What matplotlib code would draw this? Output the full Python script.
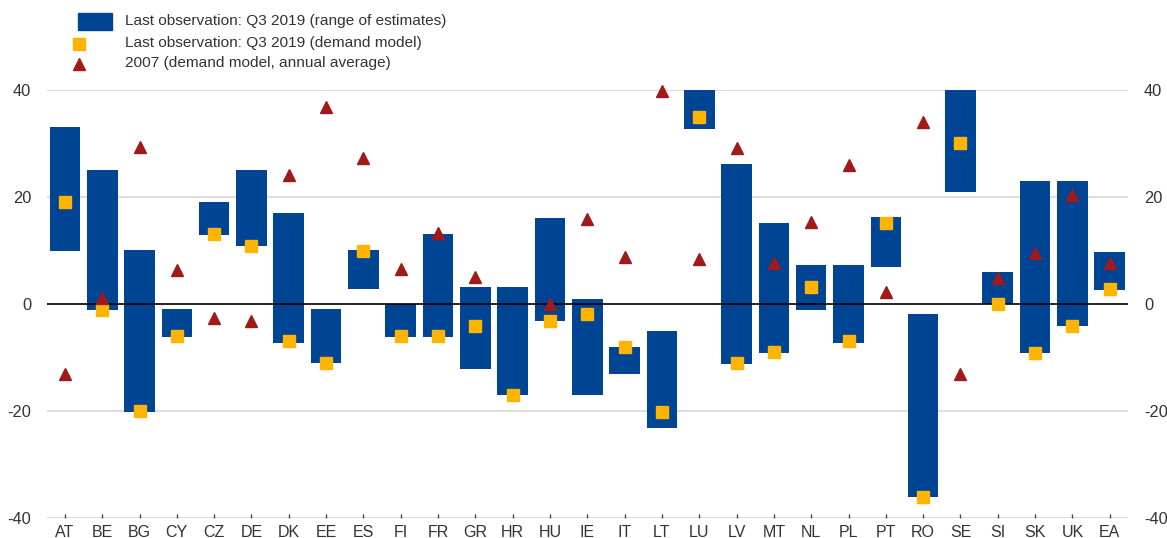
import numpy as np
import matplotlib
matplotlib.use("Agg")
import matplotlib.pyplot as plt
from matplotlib.patches import Rectangle
from matplotlib.lines import Line2D

plt.rcParams['font.family'] = ['Liberation Sans', 'DejaVu Sans']

countries = ["AT", "BE", "BG", "CY", "CZ", "DE", "DK", "EE", "ES", "FI", "FR", "GR", "HR", "HU",
             "IE", "IT", "LT", "LU", "LV", "MT", "NL", "PL", "PT", "RO", "SE", "SI", "SK", "UK", "EA"]
range_low = [9.9, -1.1, -20.2, -6.2, 12.9, 10.9, -7.2, -11.0, 2.8, -6.1, -6.1, -12.1, -17.1, -3.1,
             -17.1, -13.1, -23.1, 32.7, -11.2, -9.2, -1.1, -7.2, 6.9, -36.1, 20.9, 0.0, -9.1, -4.1, 2.6]
range_high = [33.0, 25.1, 10.0, -0.9, 19.1, 25.1, 17.1, -0.9, 10.1, 0.0, 13.1, 3.1, 3.1, 16.1,
              1.0, -8.0, -5.0, 42.0, 26.1, 15.1, 7.2, 7.2, 16.2, -1.9, 45.0, 6.0, 23.0, 23.0, 9.8]
demand_2019 = [19.0, -1.1, -20.0, -6.0, 13.1, 10.9, -6.9, -11.0, 10.0, -6.0, -6.0, -4.1, -17.0, -3.1,
               -1.9, -8.1, -20.1, 35.0, -11.0, -9.0, 3.2, -6.9, 15.1, -36.0, 30.0, 0.0, -9.1, -4.1, 2.8]
demand_2007 = [-13.1, 1.1, 29.3, 6.4, -2.7, -3.2, 24.2, 36.9, 27.3, 6.5, 13.2, 5.0, np.nan, 0.0,
               15.9, 8.8, 39.8, 8.4, 29.1, 7.7, 15.4, 26.0, 2.2, 34.1, -13.0, 4.9, 9.5, 20.3, 7.6]
yticks = [-40, -20, 0, 20, 40]
legend_labels = ["Last observation: Q3 2019 (range of estimates)",
                 "Last observation: Q3 2019 (demand model)",
                 "2007 (demand model, annual average)"]

BLUE = "#004494"
YELLOW = "#FFB400"
RED = "#A11A1A"
TEXT = "#333333"

W, H = 1167, 538
fig = plt.figure(figsize=(W / 100, H / 100), dpi=100)
ax = fig.add_axes([47 / W, 1 - 518 / H, (1128 - 47) / W, (518 - 90) / H])

x = np.arange(len(countries))
low = np.array(range_low)
high = np.array(range_high)

for yv in yticks:
    if yv != 0:
        ax.axhline(yv, color="#D9D9D9", lw=1.2, zorder=0)

ax.bar(x, high - low, bottom=low, width=0.82, color=BLUE, zorder=2)
ax.axhline(0, color="black", lw=1.2, zorder=3)
ax.plot(x, demand_2019, ls="none", marker="s", ms=8.3, color=YELLOW, mec=YELLOW, zorder=4, clip_on=False)
ax.plot(x, demand_2007, ls="none", marker="^", ms=8.5, color=RED, mec=RED, zorder=4, clip_on=False)

ax.set_xlim(-0.48, len(countries) - 1 + 0.49)
ax.set_ylim(-40, 40)
ax.set_yticks(yticks)
ax.set_yticklabels([str(v) for v in yticks])
ax.set_xticks(x)
ax.set_xticklabels(countries)
for s in ax.spines.values():
    s.set_visible(False)
ax.tick_params(axis="y", left=False, right=False, labelleft=True, labelright=True,
               labelsize=11.8, colors=TEXT, pad=8)
ax.tick_params(axis="x", direction="in", length=3, width=1, color="#444444",
               labelsize=11.5, labelcolor=TEXT, pad=5)

# legend drawn in figure pixel coordinates
def fx(px):
    return px / W

def fy(py):
    return 1 - py / H

fig.add_artist(Rectangle((fx(78), fy(30)), fx(112) - fx(78), fy(12.5) - fy(30),
                         transform=fig.transFigure, color=BLUE))
fig.add_artist(Line2D([fx(79)], [fy(44)], transform=fig.transFigure, marker="s", ms=8.3,
                      color=YELLOW, mec=YELLOW, ls="none"))
fig.add_artist(Line2D([fx(79)], [fy(64)], transform=fig.transFigure, marker="^", ms=8.5,
                      color=RED, mec=RED, ls="none"))
for lbl, ty in zip(legend_labels, [21.5, 43.5, 63.5]):
    fig.text(fx(125), fy(ty), lbl, fontsize=11.1, color=TEXT, va="center", ha="left")

fig.savefig("out.png", dpi=100)
